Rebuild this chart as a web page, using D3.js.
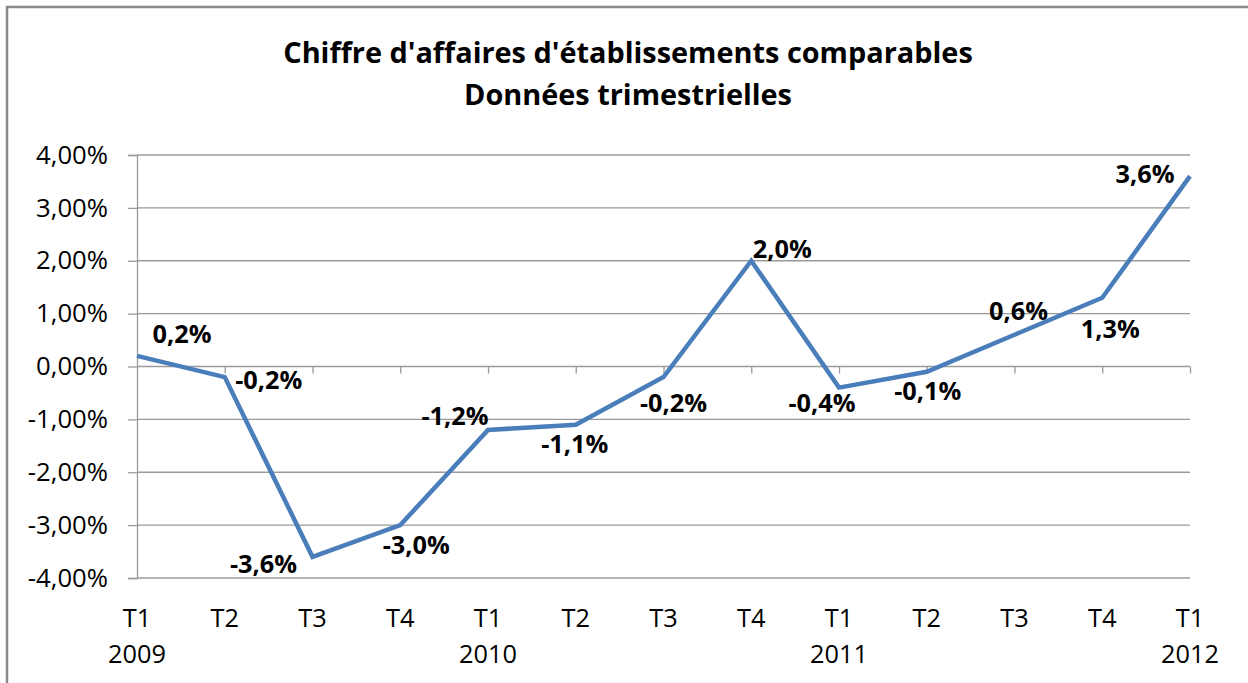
<!DOCTYPE html>
<html>
<head>
<meta charset="utf-8">
<script src="https://cdn.jsdelivr.net/npm/d3@7"></script>
<style>
  body { margin: 0; background: #fff; }
  svg { display: block; font-family: "Open Sans", "Liberation Sans", sans-serif; }
</style>
</head>
<body>
<svg id="chart"></svg>
<script>
// quarterly labels along the category axis
var quarters = ["T1", "T2", "T3", "T4", "T1", "T2", "T3", "T4", "T1", "T2", "T3", "T4", "T1"];
var years = ["2009", "", "", "", "2010", "", "", "", "2011", "", "", "", "2012"];
// comparable-store sales growth, in %
var values = [0.2, -0.2, -3.6, -3.0, -1.2, -1.1, -0.2, 2.0, -0.4, -0.1, 0.6, 1.3, 3.6];
var yTicks = [4, 3, 2, 1, 0, -1, -2, -3, -4];
var titleLines = ["Chiffre d'affaires d'établissements comparables", "Données trimestrielles"];

// where each data label sits relative to its point (Excel-ish placement)
var labelOffsets = [[45, -22], [44, 3], [-49, 7], [16, 20], [-33, -14], [-1, 19], [10, 26], [31, -12],
                    [-17, 15], [1, 19], [4, -24], [8, 31], [-45, -2]];

var svgWidth = 1248, svgHeight = 683;
var margin = { top: 155, right: 58, bottom: 105, left: 137 };
var width = svgWidth - margin.left - margin.right;
var height = svgHeight - margin.top - margin.bottom;

var svg = d3.select("#chart")
    .attr("width", svgWidth)
    .attr("height", svgHeight);

// the source used a narrow font, so pick a size that gives the same text width
function fitSize(sample, weight, target) {
    var t = svg.append("text")
        .attr("font-size", 100)
        .attr("font-weight", weight)
        .text(sample);
    var w = t.node().getComputedTextLength();
    t.remove();
    return 100 * target / w;
}
var titleSize = fitSize(titleLines[0], "bold", 690);
var tickSize = fitSize("4,00%", "normal", 72);
var catSize = fitSize("2009", "normal", 58);
var labelSize = fitSize("0,2%", "bold", 59);

// chart frame (only top/left edges show inside the picture)
svg.append("rect")
    .attr("x", 7).attr("y", 7)
    .attr("width", svgWidth + 20).attr("height", svgHeight + 20)
    .attr("fill", "none")
    .attr("stroke", "#8a8a8a")
    .attr("stroke-width", 2.5);

// title
svg.append("g").selectAll("text")
    .data(titleLines)
    .join("text")
    .attr("x", 628)
    .attr("y", function(d, i) { return 63 + i * 42; })
    .attr("text-anchor", "middle")
    .attr("font-size", titleSize)
    .attr("font-weight", "bold")
    .attr("fill", "#000")
    .text(function(d) { return d; });

var g = svg.append("g")
    .attr("transform", "translate(" + margin.left + "," + margin.top + ")");

var x = d3.scalePoint()
    .domain(d3.range(values.length))
    .range([0, width]);

var y = d3.scaleLinear()
    .domain([-4, 4])
    .range([height, 0]);

// horizontal gridlines
g.append("g")
    .selectAll("line")
    .data(yTicks)
    .join("line")
    .attr("x1", 0).attr("x2", width)
    .attr("y1", function(d) { return y(d); })
    .attr("y2", function(d) { return y(d); })
    .attr("stroke", "#9a9a9a")
    .attr("stroke-width", 1.3);

// y axis with french percent labels
var yAxis = g.append("g")
    .call(d3.axisLeft(y)
        .tickValues(yTicks)
        .tickSize(9)
        .tickPadding(20)
        .tickFormat(function(d) { return d3.format(".2f")(d).replace(".", ",").replace("−", "-") + "%"; }));
yAxis.selectAll("path, line").attr("stroke", "#9a9a9a").attr("stroke-width", 1.3);
yAxis.selectAll("text")
    .attr("font-size", tickSize)
    .attr("fill", "#000")
    .attr("font-family", "Open Sans, sans-serif");

// category axis crosses at zero, labels sit at the bottom
var xAxis = g.append("g")
    .attr("transform", "translate(0," + y(0) + ")")
    .call(d3.axisBottom(x).tickSize(7).tickFormat(""));
xAxis.select(".domain").remove();
xAxis.selectAll("line").attr("stroke", "#9a9a9a").attr("stroke-width", 1.3);
xAxis.selectAll(".tick").filter(function(d) { return d === 0; }).remove();

var catLabels = g.append("g")
    .attr("transform", "translate(0," + height + ")");
catLabels.selectAll(".q")
    .data(quarters)
    .join("text")
    .attr("class", "q")
    .attr("x", function(d, i) { return x(i); })
    .attr("y", 49)
    .attr("text-anchor", "middle")
    .attr("font-size", catSize)
    .attr("fill", "#000")
    .text(function(d) { return d; });
catLabels.selectAll(".yr")
    .data(years)
    .join("text")
    .attr("class", "yr")
    .attr("x", function(d, i) { return x(i); })
    .attr("y", 85)
    .attr("text-anchor", "middle")
    .attr("font-size", catSize)
    .attr("fill", "#000")
    .text(function(d) { return d; });

// the series line
var line = d3.line()
    .x(function(d, i) { return x(i); })
    .y(function(d) { return y(d); });

g.append("path")
    .datum(values)
    .attr("fill", "none")
    .attr("stroke", "#4a7ebb")
    .attr("stroke-width", 4.5)
    .attr("stroke-linejoin", "miter")
    .attr("d", line);

// data labels
g.append("g")
    .selectAll("text")
    .data(values)
    .join("text")
    .attr("x", function(d, i) { return x(i) + labelOffsets[i][0]; })
    .attr("y", function(d, i) { return y(d) + labelOffsets[i][1]; })
    .attr("dy", "0.35em")
    .attr("text-anchor", "middle")
    .attr("font-size", labelSize)
    .attr("font-weight", "bold")
    .attr("fill", "#000")
    .text(function(d) { return d3.format(".1f")(d).replace(".", ",").replace("−", "-") + "%"; });
</script>
</body>
</html>
